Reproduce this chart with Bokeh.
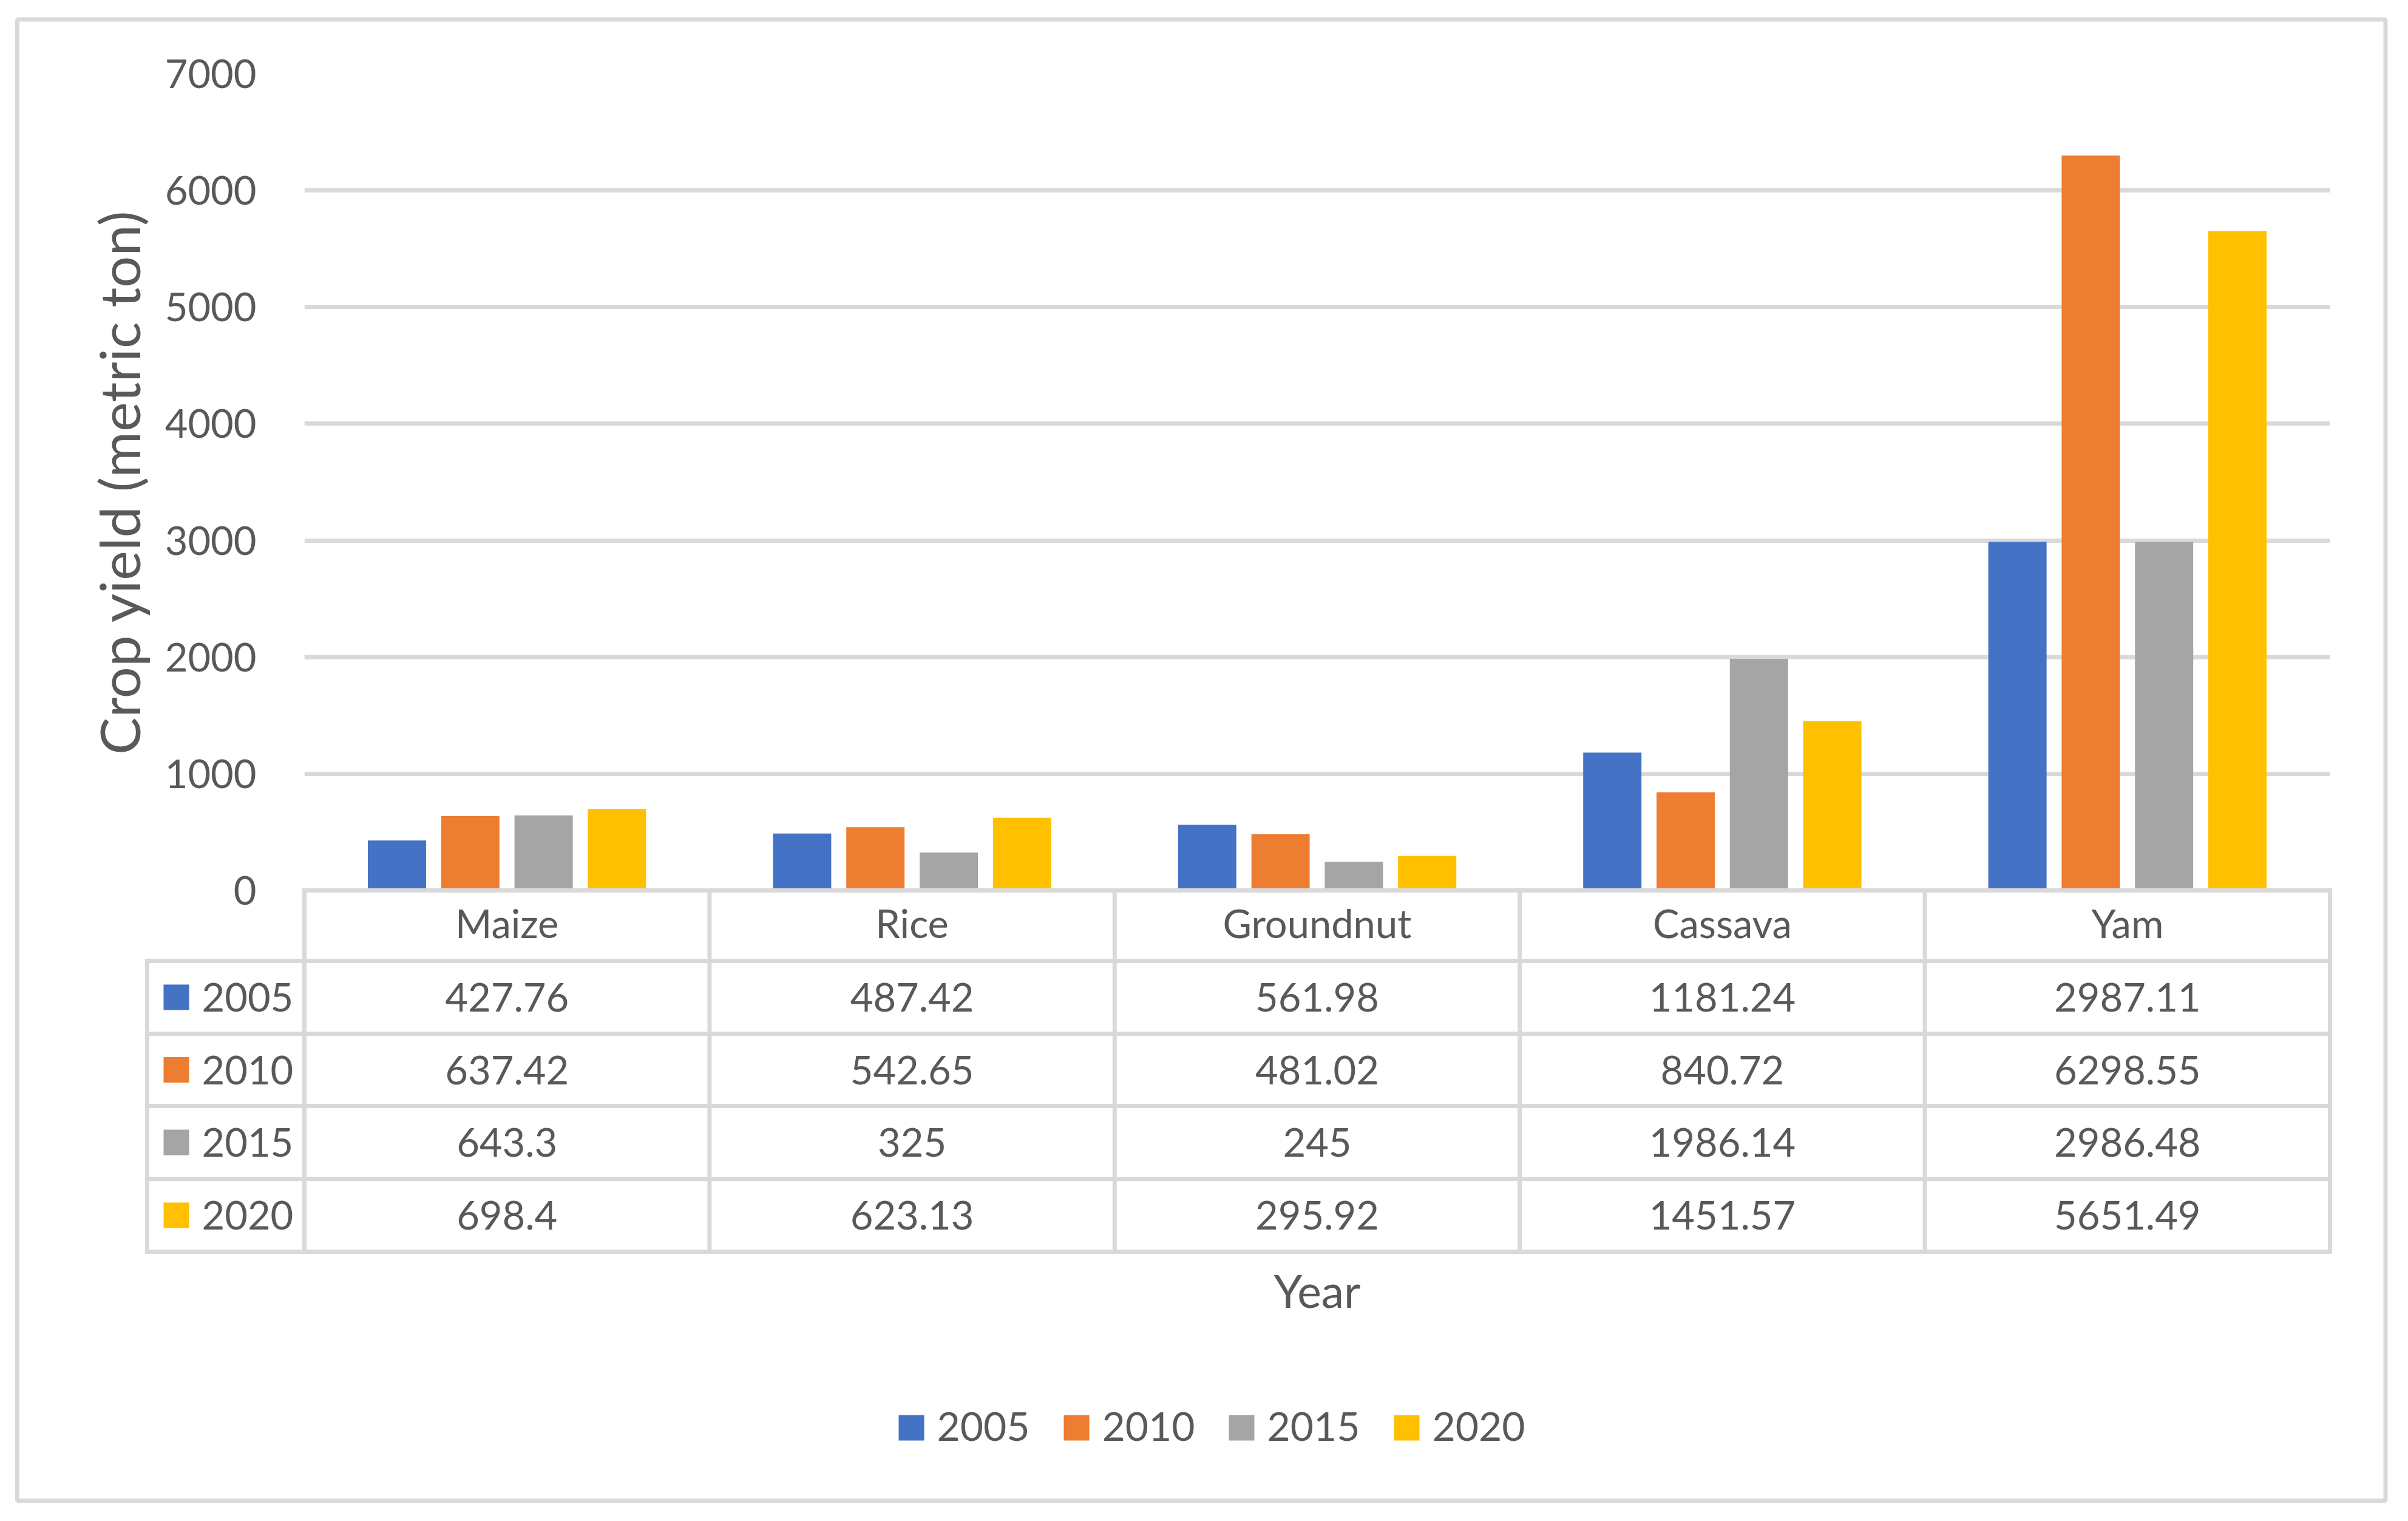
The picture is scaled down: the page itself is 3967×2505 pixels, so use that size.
from bokeh.plotting import figure
from bokeh.models import ColumnDataSource, FactorRange, Range1d, FixedTicker
from bokeh.transform import dodge
from bokeh.core.properties import value
from bokeh.embed import file_html
from bokeh.resources import INLINE

# ---------------- data ----------------
crops = ["Maize", "Rice", "Groundnut", "Cassava", "Yam"]
years = ["2005", "2010", "2015", "2020"]
yield_2005 = [427.76, 487.42, 561.98, 1181.24, 2987.11]
yield_2010 = [637.42, 542.65, 481.02, 840.72, 6298.55]
yield_2015 = [643.3, 325, 245, 1986.14, 2986.48]
yield_2020 = [698.4, 623.13, 295.92, 1451.57, 5651.49]
y_ticks = [0, 1000, 2000, 3000, 4000, 5000, 6000, 7000]
colors = ["#4472C4", "#ED7D31", "#A5A5A5", "#FFC000"]
series = [yield_2005, yield_2010, yield_2015, yield_2020]

TXT = "#595959"
LINE = "#D9D9D9"
FONT = "Lato"

# ---------------- layout helpers (picture pixels -> data space) ----------------
FL, FR, FT, FB = 501, 3838, 121, 1466          # plot frame in picture px
PX_PER_CAT = (FR - FL) / len(crops)
YMAX = 7000


def ux(px):
    return (px - FL) / PX_PER_CAT


def vy(py):
    return (FB - py) * YMAX / (FB - FT)


def fmt(v):
    return f"{v:g}"


W, H = 3951, 2489
p = figure(width=W, height=H, output_backend="svg", toolbar_location=None,
           x_range=FactorRange(*crops), y_range=Range1d(0, YMAX),
           min_border_left=FL, min_border_right=W - FR,
           min_border_top=FT, min_border_bottom=H - FB,
           background_fill_color="white", border_fill_color="white")
p.outline_line_color = None

# ---------------- bars ----------------
src = ColumnDataSource(dict(crop=crops, y2005=yield_2005, y2010=yield_2010,
                            y2015=yield_2015, y2020=yield_2020))
offsets = [-0.2715, -0.0905, 0.0905, 0.2715]
renderers = []
for i, yr in enumerate(years):
    r = p.vbar(x=dodge("crop", offsets[i], range=p.x_range), top="y" + yr,
               width=0.1438, source=src, fill_color=colors[i], line_color=None)
    renderers.append(r)

# ---------------- axes & grid ----------------
p.yaxis.ticker = FixedTicker(ticks=y_ticks)
p.yaxis.axis_line_color = None
p.yaxis.major_tick_line_color = None
p.yaxis.minor_tick_line_color = None
p.yaxis.major_label_standoff = 73
p.yaxis.major_label_text_font = FONT
p.yaxis.major_label_text_font_size = "65px"
p.yaxis.major_label_text_color = TXT
p.yaxis.axis_label = "Crop yield (metric ton)"
p.yaxis.axis_label_text_font = FONT
p.yaxis.axis_label_text_font_size = "92px"
p.yaxis.axis_label_text_font_style = "normal"
p.yaxis.axis_label_text_color = TXT
p.yaxis.axis_label_standoff = 18

p.xaxis.axis_line_color = LINE
p.xaxis.axis_line_width = 7
p.xaxis.major_tick_line_color = None
p.xaxis.minor_tick_line_color = None
p.xaxis.major_label_standoff = 8
p.xaxis.major_label_text_font = FONT
p.xaxis.major_label_text_font_size = "65px"
p.xaxis.major_label_text_color = TXT
p.xaxis.axis_label = "Year"
p.xaxis.axis_label_text_font = FONT
p.xaxis.axis_label_text_font_size = "75px"
p.xaxis.axis_label_text_font_style = "normal"
p.xaxis.axis_label_text_color = TXT
p.xaxis.axis_label_standoff = 518

p.xgrid.grid_line_color = None
p.ygrid.grid_line_color = LINE
p.ygrid.grid_line_width = 7

# ---------------- data table under the chart ----------------
row_lines = [1582, 1702, 1821, 1941, 2061]
row_centers = [(row_lines[k] + row_lines[k + 1]) / 2 for k in range(4)]
leg_left = ux(242)
n = len(crops)

hx0 = [leg_left] * len(row_lines)
hx1 = [n] * len(row_lines)
hy = [vy(v) for v in row_lines]
p.segment(x0=hx0, y0=hy, x1=hx1, y1=hy, line_color=LINE, line_width=7,
          line_cap="square", level="overlay")
vx = [leg_left] + list(range(n + 1))
vy0 = [vy(row_lines[0])] + [vy(FB)] * (n + 1)
vy1 = [vy(row_lines[-1])] * (n + 2)
p.segment(x0=vx, y0=vy0, x1=vx, y1=vy1, line_color=LINE, line_width=7,
          line_cap="square", level="overlay")

for i, yr in enumerate(years):
    ts = ColumnDataSource(dict(crop=crops, label=[fmt(v) for v in series[i]],
                               y=[vy(row_centers[i])] * n))
    p.text(x="crop", y="y", text="label", source=ts, text_align="center",
           text_baseline="middle", text_font=value(FONT), text_font_size="65px",
           text_color=TXT, level="overlay")

p.rect(x=[ux(290)] * 4, y=[vy(c) for c in row_centers], width=42, height=42,
       width_units="screen", height_units="screen", fill_color=colors,
       line_color=None, level="overlay")
p.text(x=[ux(332)] * 4, y=[vy(c) for c in row_centers], text=years,
       text_align="left", text_baseline="middle", text_font=value(FONT),
       text_font_size="65px", text_color=TXT, level="overlay")

# ---------------- outer border ----------------
p.quad(left=[ux(28)], right=[ux(3929.5)], top=[vy(31.5)], bottom=[vy(2471)],
       fill_color=None, line_color=LINE, line_width=7, level="overlay")

# ---------------- legend (series keys below the chart) ----------------
leg_key_x = [1501, 1773, 2045, 2317]
leg_y = 2351
p.rect(x=[ux(v) for v in leg_key_x], y=[vy(leg_y)] * 4, width=42, height=42,
       width_units="screen", height_units="screen", fill_color=colors,
       line_color=None, level="overlay")
p.text(x=[ux(v + 42) for v in leg_key_x], y=[vy(leg_y - 2)] * 4, text=years,
       text_align="left", text_baseline="middle", text_font=value(FONT),
       text_font_size="66px", text_color=TXT, level="overlay")

open("out.html", "w").write(file_html(p, INLINE))
